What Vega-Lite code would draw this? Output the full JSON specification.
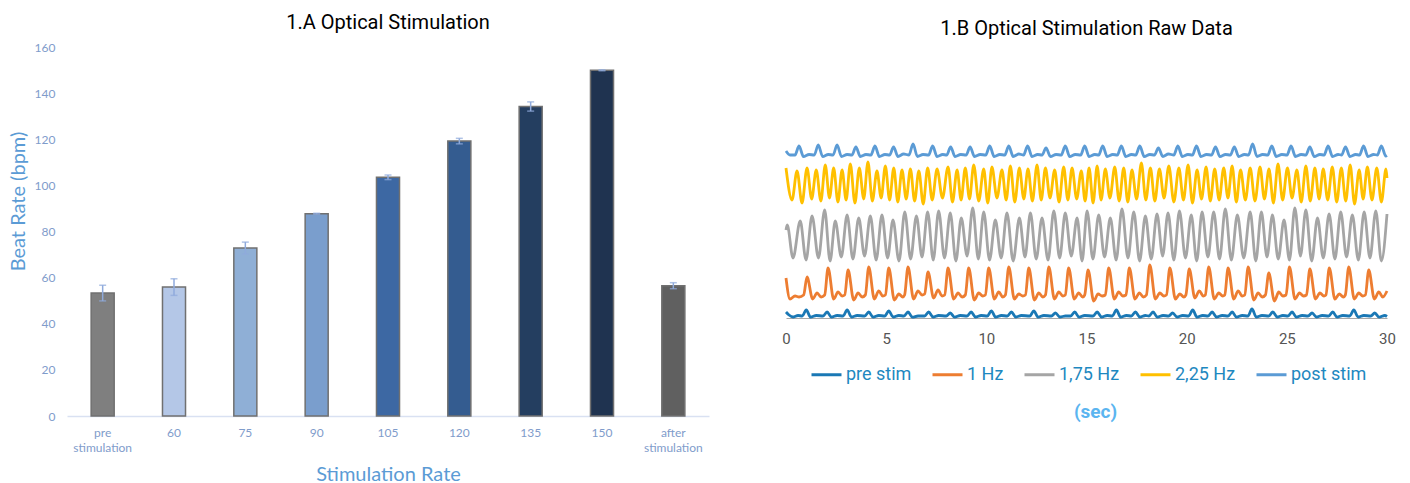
{
"$schema":"https://vega.github.io/schema/vega-lite/v6.json",
"padding":{"left":8,"top":13,"right":5,"bottom":0},
"spacing":71,
"resolve":{"scale":{"color":"independent"},"legend":{"color":"independent"}},
"config":{"view":{"stroke":null},"title":{"font":"Roboto","fontSize":20,"fontWeight":"normal","color":"#000000"}},
"hconcat":[
{
"title":{"text":"1.A Optical Stimulation","offset":8},
"width":642,"height":369,
"data":{"values":[
{"rate":"pre stimulation","beat":53.3,"err":3.4},
{"rate":"60","beat":55.9,"err":3.6},
{"rate":"75","beat":72.8,"err":2.6},
{"rate":"90","beat":87.7,"err":0.2},
{"rate":"105","beat":103.5,"err":1.0},
{"rate":"120","beat":119.2,"err":1.2},
{"rate":"135","beat":134.2,"err":2.0},
{"rate":"150","beat":149.9,"err":0.2},
{"rate":"after stimulation","beat":56.5,"err":1.3}
]},
"encoding":{"x":{"field":"rate","type":"nominal","sort":null,"scale":{"paddingInner":0.677,"paddingOuter":0.3385},
"axis":{"title":"Stimulation Rate","titleColor":"#5B9BD5","titleFont":"Lato","titleFontSize":20,"titleFontWeight":"normal","titleX":321,"titleY":58,"titleBaseline":"middle","titleAlign":"center",
"labelFont":"Lato","labelFontSize":12,"labelColor":"#7F9CCB","labelAngle":0,"labelPadding":11,"labelLineHeight":15,"ticks":false,"domainColor":"#D9E1F2","domainWidth":1.5,
"labelExpr":"datum.label == 'pre stimulation' ? ['pre','stimulation'] : datum.label == 'after stimulation' ? ['after','stimulation'] : datum.label"}}},
"layer":[
{"mark":{"type":"bar","stroke":"#707070","strokeWidth":1.5},
"encoding":{
"y":{"field":"beat","type":"quantitative","title":"Beat Rate (bpm)","scale":{"domain":[0,160],"nice":false},
"axis":{"values":[0,20,40,60,80,100,120,140,160],"titleColor":"#5B9BD5","titleFont":"Lato","titleFontSize":20,"titleFontWeight":"normal","titleX":-49,"titleY":154,"titleBaseline":"middle","titleAlign":"center","titleAngle":-90,
"labelFont":"Lato","labelFontSize":12,"labelColor":"#7F9CCB","labelPadding":12,"ticks":false,"domain":false,"grid":false}},
"color":{"field":"rate","type":"nominal","sort":null,"legend":null,
"scale":{"domain":["pre stimulation","60","75","90","105","120","135","150","after stimulation"],
"range":["#7F7F7F","#B4C7E7","#8FAFD6","#7A9ECD","#3D68A3","#345C90","#243E60","#1F3350","#606060"]}}}},
{"mark":{"type":"errorbar","color":"#8FAADC","thickness":1.5,"ticks":{"size":7}},
"encoding":{"y":{"field":"beat","type":"quantitative","title":"Beat Rate (bpm)"},"yError":{"field":"err"}}}
]
},
{
"title":{"text":"1.B Optical Stimulation Raw Data","offset":8},
"width":601,"height":271,
"data":{"values":[
{"s":"pre stim","t":0,"v":6},{"s":"pre stim","t":0.15,"v":3},{"s":"pre stim","t":0.35,"v":1},{"s":"pre stim","t":0.6,"v":2.5},
{"s":"pre stim","t":0.81,"v":2},{"s":"pre stim","t":1.01,"v":8},{"s":"pre stim","t":1.23,"v":0.8},{"s":"pre stim","t":1.51,"v":2.5},
{"s":"pre stim","t":1.85,"v":2},{"s":"pre stim","t":2.05,"v":6},{"s":"pre stim","t":2.27,"v":0.8},{"s":"pre stim","t":2.55,"v":2.5},
{"s":"pre stim","t":2.85,"v":2},{"s":"pre stim","t":3.05,"v":8},{"s":"pre stim","t":3.27,"v":1},{"s":"pre stim","t":3.55,"v":2.5},
{"s":"pre stim","t":3.93,"v":2},{"s":"pre stim","t":4.13,"v":6},{"s":"pre stim","t":4.35,"v":0.8},{"s":"pre stim","t":4.63,"v":2.5},
{"s":"pre stim","t":4.93,"v":2},{"s":"pre stim","t":5.13,"v":7},{"s":"pre stim","t":5.35,"v":1},{"s":"pre stim","t":5.63,"v":2.5},
{"s":"pre stim","t":5.89,"v":2},{"s":"pre stim","t":6.09,"v":6},{"s":"pre stim","t":6.31,"v":0.8},{"s":"pre stim","t":6.59,"v":2},
{"s":"pre stim","t":6.92,"v":2},{"s":"pre stim","t":7.12,"v":6},{"s":"pre stim","t":7.34,"v":1},{"s":"pre stim","t":7.62,"v":2.5},
{"s":"pre stim","t":8.0,"v":2},{"s":"pre stim","t":8.2,"v":5},{"s":"pre stim","t":8.42,"v":0.8},{"s":"pre stim","t":8.7,"v":2.5},
{"s":"pre stim","t":9.04,"v":2},{"s":"pre stim","t":9.24,"v":6},{"s":"pre stim","t":9.46,"v":1},{"s":"pre stim","t":9.74,"v":2.5},
{"s":"pre stim","t":10.05,"v":2},{"s":"pre stim","t":10.25,"v":7},{"s":"pre stim","t":10.47,"v":0.8},{"s":"pre stim","t":10.75,"v":2.5},
{"s":"pre stim","t":11.05,"v":2},{"s":"pre stim","t":11.25,"v":6},{"s":"pre stim","t":11.47,"v":1},{"s":"pre stim","t":11.75,"v":2.5},
{"s":"pre stim","t":12.17,"v":2},{"s":"pre stim","t":12.37,"v":7},{"s":"pre stim","t":12.59,"v":0.8},{"s":"pre stim","t":12.87,"v":2.5},
{"s":"pre stim","t":13.25,"v":2},{"s":"pre stim","t":13.45,"v":5},{"s":"pre stim","t":13.67,"v":1},{"s":"pre stim","t":13.95,"v":2},
{"s":"pre stim","t":14.21,"v":2},{"s":"pre stim","t":14.41,"v":6},{"s":"pre stim","t":14.63,"v":0.8},{"s":"pre stim","t":14.91,"v":2.5},
{"s":"pre stim","t":15.33,"v":2},{"s":"pre stim","t":15.53,"v":6},{"s":"pre stim","t":15.75,"v":1},{"s":"pre stim","t":16.03,"v":2.5},
{"s":"pre stim","t":16.29,"v":2},{"s":"pre stim","t":16.49,"v":8},{"s":"pre stim","t":16.71,"v":0.8},{"s":"pre stim","t":16.99,"v":2.5},
{"s":"pre stim","t":17.24,"v":2},{"s":"pre stim","t":17.44,"v":6},{"s":"pre stim","t":17.66,"v":1},{"s":"pre stim","t":17.94,"v":2.5},
{"s":"pre stim","t":18.12,"v":2},{"s":"pre stim","t":18.32,"v":6},{"s":"pre stim","t":18.54,"v":0.8},{"s":"pre stim","t":18.82,"v":2.5},
{"s":"pre stim","t":19.1,"v":2},{"s":"pre stim","t":19.3,"v":5},{"s":"pre stim","t":19.52,"v":1},{"s":"pre stim","t":19.8,"v":2.5},
{"s":"pre stim","t":20.1,"v":2},{"s":"pre stim","t":20.3,"v":8},{"s":"pre stim","t":20.52,"v":0.8},{"s":"pre stim","t":20.8,"v":2.5},
{"s":"pre stim","t":21.07,"v":2},{"s":"pre stim","t":21.27,"v":6},{"s":"pre stim","t":21.49,"v":1},{"s":"pre stim","t":21.77,"v":2.5},
{"s":"pre stim","t":22.07,"v":2},{"s":"pre stim","t":22.27,"v":6},{"s":"pre stim","t":22.49,"v":0.8},{"s":"pre stim","t":22.77,"v":2.5},
{"s":"pre stim","t":23.06,"v":2},{"s":"pre stim","t":23.26,"v":9},{"s":"pre stim","t":23.48,"v":0.8},{"s":"pre stim","t":23.76,"v":2.5},
{"s":"pre stim","t":24.1,"v":2},{"s":"pre stim","t":24.3,"v":6},{"s":"pre stim","t":24.52,"v":1},{"s":"pre stim","t":24.8,"v":2.5},
{"s":"pre stim","t":25.06,"v":2},{"s":"pre stim","t":25.26,"v":6},{"s":"pre stim","t":25.48,"v":0.8},{"s":"pre stim","t":25.76,"v":2.5},
{"s":"pre stim","t":26.06,"v":2},{"s":"pre stim","t":26.26,"v":5},{"s":"pre stim","t":26.48,"v":1},{"s":"pre stim","t":26.76,"v":2.5},
{"s":"pre stim","t":27.09,"v":2},{"s":"pre stim","t":27.29,"v":6},{"s":"pre stim","t":27.51,"v":0.8},{"s":"pre stim","t":27.79,"v":2.5},
{"s":"pre stim","t":28.14,"v":2},{"s":"pre stim","t":28.34,"v":8},{"s":"pre stim","t":28.56,"v":1},{"s":"pre stim","t":28.84,"v":2.5},
{"s":"pre stim","t":29.19,"v":2},{"s":"pre stim","t":29.39,"v":5},{"s":"pre stim","t":29.61,"v":0.8},{"s":"pre stim","t":29.89,"v":2.5},
{"s":"pre stim","t":30,"v":1.5},
{"s":"1 Hz","t":0,"v":40},{"s":"1 Hz","t":0.2,"v":19},{"s":"1 Hz","t":0.45,"v":22},{"s":"1 Hz","t":0.65,"v":21},
{"s":"1 Hz","t":0.88,"v":23},{"s":"1 Hz","t":1.05,"v":41},{"s":"1 Hz","t":1.33,"v":19},{"s":"1 Hz","t":1.55,"v":25},{"s":"1 Hz","t":1.75,"v":21},
{"s":"1 Hz","t":1.93,"v":23},{"s":"1 Hz","t":2.1,"v":50},{"s":"1 Hz","t":2.38,"v":19},{"s":"1 Hz","t":2.6,"v":26},{"s":"1 Hz","t":2.8,"v":22},
{"s":"1 Hz","t":2.93,"v":23},{"s":"1 Hz","t":3.1,"v":48},{"s":"1 Hz","t":3.38,"v":18},{"s":"1 Hz","t":3.6,"v":25},{"s":"1 Hz","t":3.8,"v":21},
{"s":"1 Hz","t":3.96,"v":23},{"s":"1 Hz","t":4.13,"v":51},{"s":"1 Hz","t":4.41,"v":19},{"s":"1 Hz","t":4.63,"v":27},{"s":"1 Hz","t":4.83,"v":22},
{"s":"1 Hz","t":4.96,"v":23},{"s":"1 Hz","t":5.13,"v":50},{"s":"1 Hz","t":5.41,"v":18},{"s":"1 Hz","t":5.63,"v":24},{"s":"1 Hz","t":5.83,"v":21},
{"s":"1 Hz","t":5.92,"v":23},{"s":"1 Hz","t":6.09,"v":51},{"s":"1 Hz","t":6.37,"v":19},{"s":"1 Hz","t":6.59,"v":27},{"s":"1 Hz","t":6.79,"v":23},
{"s":"1 Hz","t":6.92,"v":24},{"s":"1 Hz","t":7.09,"v":46},{"s":"1 Hz","t":7.37,"v":20},{"s":"1 Hz","t":7.59,"v":28},{"s":"1 Hz","t":7.79,"v":22},
{"s":"1 Hz","t":7.92,"v":23},{"s":"1 Hz","t":8.09,"v":50},{"s":"1 Hz","t":8.37,"v":19},{"s":"1 Hz","t":8.59,"v":25},{"s":"1 Hz","t":8.79,"v":21},
{"s":"1 Hz","t":8.95,"v":23},{"s":"1 Hz","t":9.12,"v":50},{"s":"1 Hz","t":9.4,"v":18},{"s":"1 Hz","t":9.62,"v":25},{"s":"1 Hz","t":9.82,"v":22},
{"s":"1 Hz","t":9.95,"v":23},{"s":"1 Hz","t":10.12,"v":50},{"s":"1 Hz","t":10.4,"v":19},{"s":"1 Hz","t":10.62,"v":26},{"s":"1 Hz","t":10.82,"v":21},
{"s":"1 Hz","t":10.95,"v":23},{"s":"1 Hz","t":11.12,"v":51},{"s":"1 Hz","t":11.4,"v":19},{"s":"1 Hz","t":11.62,"v":24},{"s":"1 Hz","t":11.82,"v":22},
{"s":"1 Hz","t":11.95,"v":23},{"s":"1 Hz","t":12.12,"v":50},{"s":"1 Hz","t":12.4,"v":18},{"s":"1 Hz","t":12.62,"v":25},{"s":"1 Hz","t":12.82,"v":21},
{"s":"1 Hz","t":12.95,"v":23},{"s":"1 Hz","t":13.12,"v":51},{"s":"1 Hz","t":13.4,"v":19},{"s":"1 Hz","t":13.62,"v":26},{"s":"1 Hz","t":13.82,"v":22},
{"s":"1 Hz","t":13.94,"v":23},{"s":"1 Hz","t":14.11,"v":50},{"s":"1 Hz","t":14.39,"v":19},{"s":"1 Hz","t":14.61,"v":25},{"s":"1 Hz","t":14.81,"v":21},
{"s":"1 Hz","t":14.91,"v":23},{"s":"1 Hz","t":15.08,"v":48},{"s":"1 Hz","t":15.36,"v":17},{"s":"1 Hz","t":15.58,"v":24},{"s":"1 Hz","t":15.78,"v":22},
{"s":"1 Hz","t":15.94,"v":23},{"s":"1 Hz","t":16.11,"v":50},{"s":"1 Hz","t":16.39,"v":19},{"s":"1 Hz","t":16.61,"v":26},{"s":"1 Hz","t":16.81,"v":22},
{"s":"1 Hz","t":16.97,"v":23},{"s":"1 Hz","t":17.14,"v":50},{"s":"1 Hz","t":17.42,"v":19},{"s":"1 Hz","t":17.64,"v":25},{"s":"1 Hz","t":17.84,"v":21},
{"s":"1 Hz","t":17.99,"v":23},{"s":"1 Hz","t":18.16,"v":53},{"s":"1 Hz","t":18.44,"v":19},{"s":"1 Hz","t":18.66,"v":25},{"s":"1 Hz","t":18.86,"v":22},
{"s":"1 Hz","t":18.99,"v":23},{"s":"1 Hz","t":19.16,"v":50},{"s":"1 Hz","t":19.44,"v":19},{"s":"1 Hz","t":19.66,"v":24},{"s":"1 Hz","t":19.86,"v":21},
{"s":"1 Hz","t":19.96,"v":23},{"s":"1 Hz","t":20.13,"v":49},{"s":"1 Hz","t":20.41,"v":20},{"s":"1 Hz","t":20.63,"v":27},{"s":"1 Hz","t":20.83,"v":22},
{"s":"1 Hz","t":20.93,"v":23},{"s":"1 Hz","t":21.1,"v":51},{"s":"1 Hz","t":21.38,"v":19},{"s":"1 Hz","t":21.6,"v":25},{"s":"1 Hz","t":21.8,"v":22},
{"s":"1 Hz","t":21.9,"v":23},{"s":"1 Hz","t":22.07,"v":50},{"s":"1 Hz","t":22.35,"v":19},{"s":"1 Hz","t":22.57,"v":27},{"s":"1 Hz","t":22.77,"v":22},
{"s":"1 Hz","t":22.9,"v":23},{"s":"1 Hz","t":23.07,"v":51},{"s":"1 Hz","t":23.35,"v":18},{"s":"1 Hz","t":23.57,"v":25},{"s":"1 Hz","t":23.77,"v":21},
{"s":"1 Hz","t":23.93,"v":23},{"s":"1 Hz","t":24.1,"v":45},{"s":"1 Hz","t":24.38,"v":17},{"s":"1 Hz","t":24.6,"v":26},{"s":"1 Hz","t":24.8,"v":22},
{"s":"1 Hz","t":24.96,"v":23},{"s":"1 Hz","t":25.13,"v":51},{"s":"1 Hz","t":25.41,"v":19},{"s":"1 Hz","t":25.63,"v":25},{"s":"1 Hz","t":25.83,"v":22},
{"s":"1 Hz","t":25.98,"v":23},{"s":"1 Hz","t":26.15,"v":49},{"s":"1 Hz","t":26.43,"v":19},{"s":"1 Hz","t":26.65,"v":25},{"s":"1 Hz","t":26.85,"v":22},
{"s":"1 Hz","t":26.95,"v":23},{"s":"1 Hz","t":27.12,"v":50},{"s":"1 Hz","t":27.4,"v":19},{"s":"1 Hz","t":27.62,"v":24},{"s":"1 Hz","t":27.82,"v":21},
{"s":"1 Hz","t":27.92,"v":23},{"s":"1 Hz","t":28.09,"v":51},{"s":"1 Hz","t":28.37,"v":19},{"s":"1 Hz","t":28.59,"v":25},{"s":"1 Hz","t":28.79,"v":22},
{"s":"1 Hz","t":28.92,"v":23},{"s":"1 Hz","t":29.09,"v":48},{"s":"1 Hz","t":29.37,"v":19},{"s":"1 Hz","t":29.59,"v":26},{"s":"1 Hz","t":29.79,"v":21},
{"s":"1 Hz","t":30,"v":27},
{"s":"1,75 Hz","t":0,"v":88},{"s":"1,75 Hz","t":0.06,"v":93},{"s":"1,75 Hz","t":0.35,"v":60},
{"s":"1,75 Hz","t":0.71,"v":97},{"s":"1,75 Hz","t":1.0,"v":58},{"s":"1,75 Hz","t":1.3,"v":102},{"s":"1,75 Hz","t":1.62,"v":60},
{"s":"1,75 Hz","t":1.93,"v":108},{"s":"1,75 Hz","t":2.2,"v":57},{"s":"1,75 Hz","t":2.46,"v":97},{"s":"1,75 Hz","t":2.76,"v":61},
{"s":"1,75 Hz","t":3.05,"v":103},{"s":"1,75 Hz","t":3.34,"v":59},{"s":"1,75 Hz","t":3.63,"v":100},{"s":"1,75 Hz","t":3.92,"v":62},
{"s":"1,75 Hz","t":4.21,"v":102},{"s":"1,75 Hz","t":4.5,"v":58},{"s":"1,75 Hz","t":4.79,"v":103},{"s":"1,75 Hz","t":5.07,"v":60},
{"s":"1,75 Hz","t":5.34,"v":98},{"s":"1,75 Hz","t":5.64,"v":57},{"s":"1,75 Hz","t":5.93,"v":106},{"s":"1,75 Hz","t":6.22,"v":59},
{"s":"1,75 Hz","t":6.51,"v":102},{"s":"1,75 Hz","t":6.79,"v":61},{"s":"1,75 Hz","t":7.07,"v":106},{"s":"1,75 Hz","t":7.35,"v":58},
{"s":"1,75 Hz","t":7.62,"v":107},{"s":"1,75 Hz","t":7.91,"v":60},{"s":"1,75 Hz","t":8.2,"v":105},{"s":"1,75 Hz","t":8.48,"v":57},
{"s":"1,75 Hz","t":8.75,"v":100},{"s":"1,75 Hz","t":9.04,"v":62},{"s":"1,75 Hz","t":9.32,"v":110},{"s":"1,75 Hz","t":9.6,"v":59},
{"s":"1,75 Hz","t":9.87,"v":106},{"s":"1,75 Hz","t":10.16,"v":58},{"s":"1,75 Hz","t":10.45,"v":98},{"s":"1,75 Hz","t":10.74,"v":60},
{"s":"1,75 Hz","t":11.03,"v":105},{"s":"1,75 Hz","t":11.34,"v":57},{"s":"1,75 Hz","t":11.65,"v":100},{"s":"1,75 Hz","t":11.93,"v":61},
{"s":"1,75 Hz","t":12.2,"v":105},{"s":"1,75 Hz","t":12.49,"v":59},{"s":"1,75 Hz","t":12.78,"v":100},{"s":"1,75 Hz","t":13.08,"v":58},
{"s":"1,75 Hz","t":13.37,"v":107},{"s":"1,75 Hz","t":13.66,"v":60},{"s":"1,75 Hz","t":13.94,"v":105},{"s":"1,75 Hz","t":14.24,"v":62},
{"s":"1,75 Hz","t":14.53,"v":100},{"s":"1,75 Hz","t":14.78,"v":57},{"s":"1,75 Hz","t":15.03,"v":107},{"s":"1,75 Hz","t":15.32,"v":59},
{"s":"1,75 Hz","t":15.61,"v":103},{"s":"1,75 Hz","t":15.9,"v":61},{"s":"1,75 Hz","t":16.19,"v":100},{"s":"1,75 Hz","t":16.48,"v":58},
{"s":"1,75 Hz","t":16.77,"v":109},{"s":"1,75 Hz","t":17.07,"v":60},{"s":"1,75 Hz","t":17.36,"v":106},{"s":"1,75 Hz","t":17.65,"v":57},
{"s":"1,75 Hz","t":17.94,"v":102},{"s":"1,75 Hz","t":18.23,"v":59},{"s":"1,75 Hz","t":18.52,"v":104},{"s":"1,75 Hz","t":18.8,"v":62},
{"s":"1,75 Hz","t":19.07,"v":105},{"s":"1,75 Hz","t":19.36,"v":58},{"s":"1,75 Hz","t":19.64,"v":107},{"s":"1,75 Hz","t":19.94,"v":60},
{"s":"1,75 Hz","t":20.23,"v":103},{"s":"1,75 Hz","t":20.5,"v":57},{"s":"1,75 Hz","t":20.77,"v":106},{"s":"1,75 Hz","t":21.06,"v":61},
{"s":"1,75 Hz","t":21.35,"v":106},{"s":"1,75 Hz","t":21.64,"v":59},{"s":"1,75 Hz","t":21.93,"v":109},{"s":"1,75 Hz","t":22.23,"v":58},
{"s":"1,75 Hz","t":22.53,"v":103},{"s":"1,75 Hz","t":22.85,"v":60},{"s":"1,75 Hz","t":23.17,"v":106},{"s":"1,75 Hz","t":23.45,"v":57},
{"s":"1,75 Hz","t":23.73,"v":106},{"s":"1,75 Hz","t":24.01,"v":61},{"s":"1,75 Hz","t":24.28,"v":103},{"s":"1,75 Hz","t":24.57,"v":59},
{"s":"1,75 Hz","t":24.86,"v":98},{"s":"1,75 Hz","t":25.13,"v":58},{"s":"1,75 Hz","t":25.4,"v":110},{"s":"1,75 Hz","t":25.68,"v":62},
{"s":"1,75 Hz","t":25.95,"v":108},{"s":"1,75 Hz","t":26.24,"v":57},{"s":"1,75 Hz","t":26.53,"v":100},{"s":"1,75 Hz","t":26.82,"v":60},
{"s":"1,75 Hz","t":27.11,"v":104},{"s":"1,75 Hz","t":27.4,"v":59},{"s":"1,75 Hz","t":27.69,"v":106},{"s":"1,75 Hz","t":27.98,"v":61},
{"s":"1,75 Hz","t":28.27,"v":103},{"s":"1,75 Hz","t":28.57,"v":58},{"s":"1,75 Hz","t":28.86,"v":106},{"s":"1,75 Hz","t":29.15,"v":60},
{"s":"1,75 Hz","t":29.44,"v":107},{"s":"1,75 Hz","t":29.72,"v":57},{"s":"1,75 Hz","t":30,"v":104},
{"s":"2,25 Hz","t":0,"v":150},{"s":"2,25 Hz","t":0.3,"v":118},{"s":"2,25 Hz","t":0.55,"v":147},{"s":"2,25 Hz","t":0.8,"v":115},
{"s":"2,25 Hz","t":1.05,"v":150},{"s":"2,25 Hz","t":1.28,"v":119},{"s":"2,25 Hz","t":1.51,"v":148},{"s":"2,25 Hz","t":1.74,"v":117},
{"s":"2,25 Hz","t":1.96,"v":153},{"s":"2,25 Hz","t":2.17,"v":120},{"s":"2,25 Hz","t":2.38,"v":150},{"s":"2,25 Hz","t":2.59,"v":116},
{"s":"2,25 Hz","t":2.8,"v":148},{"s":"2,25 Hz","t":3.0,"v":118},{"s":"2,25 Hz","t":3.21,"v":154},{"s":"2,25 Hz","t":3.44,"v":115},
{"s":"2,25 Hz","t":3.66,"v":150},{"s":"2,25 Hz","t":3.88,"v":119},{"s":"2,25 Hz","t":4.09,"v":156},{"s":"2,25 Hz","t":4.31,"v":117},
{"s":"2,25 Hz","t":4.54,"v":147},{"s":"2,25 Hz","t":4.75,"v":120},{"s":"2,25 Hz","t":4.96,"v":152},{"s":"2,25 Hz","t":5.17,"v":118},
{"s":"2,25 Hz","t":5.38,"v":150},{"s":"2,25 Hz","t":5.58,"v":116},{"s":"2,25 Hz","t":5.79,"v":148},{"s":"2,25 Hz","t":6.0,"v":119},
{"s":"2,25 Hz","t":6.21,"v":149},{"s":"2,25 Hz","t":6.42,"v":117},{"s":"2,25 Hz","t":6.63,"v":147},{"s":"2,25 Hz","t":6.85,"v":114},
{"s":"2,25 Hz","t":7.07,"v":150},{"s":"2,25 Hz","t":7.3,"v":118},{"s":"2,25 Hz","t":7.54,"v":149},{"s":"2,25 Hz","t":7.81,"v":120},
{"s":"2,25 Hz","t":8.09,"v":151},{"s":"2,25 Hz","t":8.31,"v":116},{"s":"2,25 Hz","t":8.54,"v":148},{"s":"2,25 Hz","t":8.74,"v":118},
{"s":"2,25 Hz","t":8.95,"v":150},{"s":"2,25 Hz","t":9.16,"v":119},{"s":"2,25 Hz","t":9.37,"v":153},{"s":"2,25 Hz","t":9.62,"v":117},
{"s":"2,25 Hz","t":9.87,"v":149},{"s":"2,25 Hz","t":10.07,"v":115},{"s":"2,25 Hz","t":10.28,"v":151},{"s":"2,25 Hz","t":10.53,"v":120},
{"s":"2,25 Hz","t":10.78,"v":148},{"s":"2,25 Hz","t":10.99,"v":118},{"s":"2,25 Hz","t":11.2,"v":152},{"s":"2,25 Hz","t":11.42,"v":116},
{"s":"2,25 Hz","t":11.65,"v":150},{"s":"2,25 Hz","t":11.87,"v":119},{"s":"2,25 Hz","t":12.08,"v":149},{"s":"2,25 Hz","t":12.3,"v":117},
{"s":"2,25 Hz","t":12.53,"v":153},{"s":"2,25 Hz","t":12.74,"v":118},{"s":"2,25 Hz","t":12.95,"v":150},{"s":"2,25 Hz","t":13.18,"v":120},
{"s":"2,25 Hz","t":13.41,"v":148},{"s":"2,25 Hz","t":13.63,"v":116},{"s":"2,25 Hz","t":13.86,"v":151},{"s":"2,25 Hz","t":14.07,"v":118},
{"s":"2,25 Hz","t":14.28,"v":150},{"s":"2,25 Hz","t":14.51,"v":119},{"s":"2,25 Hz","t":14.74,"v":147},{"s":"2,25 Hz","t":14.93,"v":117},
{"s":"2,25 Hz","t":15.13,"v":150},{"s":"2,25 Hz","t":15.33,"v":115},{"s":"2,25 Hz","t":15.53,"v":152},{"s":"2,25 Hz","t":15.73,"v":118},
{"s":"2,25 Hz","t":15.94,"v":149},{"s":"2,25 Hz","t":16.17,"v":120},{"s":"2,25 Hz","t":16.41,"v":151},{"s":"2,25 Hz","t":16.63,"v":117},
{"s":"2,25 Hz","t":16.86,"v":150},{"s":"2,25 Hz","t":17.06,"v":116},{"s":"2,25 Hz","t":17.27,"v":148},{"s":"2,25 Hz","t":17.5,"v":119},
{"s":"2,25 Hz","t":17.74,"v":155},{"s":"2,25 Hz","t":17.96,"v":118},{"s":"2,25 Hz","t":18.19,"v":150},{"s":"2,25 Hz","t":18.41,"v":117},
{"s":"2,25 Hz","t":18.64,"v":149},{"s":"2,25 Hz","t":18.87,"v":120},{"s":"2,25 Hz","t":19.11,"v":152},{"s":"2,25 Hz","t":19.36,"v":116},
{"s":"2,25 Hz","t":19.61,"v":150},{"s":"2,25 Hz","t":19.84,"v":118},{"s":"2,25 Hz","t":20.07,"v":153},{"s":"2,25 Hz","t":20.29,"v":115},
{"s":"2,25 Hz","t":20.52,"v":148},{"s":"2,25 Hz","t":20.74,"v":119},{"s":"2,25 Hz","t":20.97,"v":151},{"s":"2,25 Hz","t":21.18,"v":117},
{"s":"2,25 Hz","t":21.4,"v":149},{"s":"2,25 Hz","t":21.62,"v":118},{"s":"2,25 Hz","t":21.85,"v":150},{"s":"2,25 Hz","t":22.06,"v":120},
{"s":"2,25 Hz","t":22.27,"v":152},{"s":"2,25 Hz","t":22.48,"v":116},{"s":"2,25 Hz","t":22.69,"v":148},{"s":"2,25 Hz","t":22.93,"v":118},
{"s":"2,25 Hz","t":23.17,"v":150},{"s":"2,25 Hz","t":23.41,"v":117},{"s":"2,25 Hz","t":23.66,"v":151},{"s":"2,25 Hz","t":23.88,"v":119},
{"s":"2,25 Hz","t":24.11,"v":149},{"s":"2,25 Hz","t":24.33,"v":115},{"s":"2,25 Hz","t":24.56,"v":154},{"s":"2,25 Hz","t":24.79,"v":118},
{"s":"2,25 Hz","t":25.03,"v":150},{"s":"2,25 Hz","t":25.26,"v":120},{"s":"2,25 Hz","t":25.5,"v":148},{"s":"2,25 Hz","t":25.72,"v":116},
{"s":"2,25 Hz","t":25.95,"v":152},{"s":"2,25 Hz","t":26.17,"v":117},{"s":"2,25 Hz","t":26.4,"v":150},{"s":"2,25 Hz","t":26.61,"v":119},
{"s":"2,25 Hz","t":26.82,"v":149},{"s":"2,25 Hz","t":27.04,"v":118},{"s":"2,25 Hz","t":27.27,"v":151},{"s":"2,25 Hz","t":27.49,"v":116},
{"s":"2,25 Hz","t":27.72,"v":150},{"s":"2,25 Hz","t":27.94,"v":117},{"s":"2,25 Hz","t":28.16,"v":153},{"s":"2,25 Hz","t":28.38,"v":114},
{"s":"2,25 Hz","t":28.61,"v":148},{"s":"2,25 Hz","t":28.81,"v":119},{"s":"2,25 Hz","t":29.02,"v":151},{"s":"2,25 Hz","t":29.25,"v":118},
{"s":"2,25 Hz","t":29.49,"v":150},{"s":"2,25 Hz","t":29.72,"v":116},{"s":"2,25 Hz","t":29.95,"v":149},{"s":"2,25 Hz","t":30,"v":140},
{"s":"post stim","t":0,"v":167},{"s":"post stim","t":0.2,"v":163},
{"s":"post stim","t":0.45,"v":163},{"s":"post stim","t":0.65,"v":172},{"s":"post stim","t":0.87,"v":161.5},{"s":"post stim","t":1.15,"v":163.5},
{"s":"post stim","t":1.41,"v":163},{"s":"post stim","t":1.61,"v":173},{"s":"post stim","t":1.83,"v":161.5},{"s":"post stim","t":2.11,"v":163.5},
{"s":"post stim","t":2.35,"v":163},{"s":"post stim","t":2.55,"v":173},{"s":"post stim","t":2.77,"v":161.5},{"s":"post stim","t":3.05,"v":163.5},
{"s":"post stim","t":3.29,"v":163},{"s":"post stim","t":3.49,"v":171},{"s":"post stim","t":3.71,"v":161.5},{"s":"post stim","t":3.99,"v":163.5},
{"s":"post stim","t":4.24,"v":163},{"s":"post stim","t":4.44,"v":172},{"s":"post stim","t":4.66,"v":161.5},{"s":"post stim","t":4.94,"v":163.5},
{"s":"post stim","t":5.17,"v":163},{"s":"post stim","t":5.37,"v":171},{"s":"post stim","t":5.59,"v":161.5},{"s":"post stim","t":5.87,"v":164},
{"s":"post stim","t":6.14,"v":163},{"s":"post stim","t":6.34,"v":174},{"s":"post stim","t":6.56,"v":161.5},{"s":"post stim","t":6.84,"v":163.5},
{"s":"post stim","t":7.12,"v":163},{"s":"post stim","t":7.32,"v":172},{"s":"post stim","t":7.54,"v":161.5},{"s":"post stim","t":7.82,"v":163.5},
{"s":"post stim","t":8.02,"v":163},{"s":"post stim","t":8.22,"v":171},{"s":"post stim","t":8.44,"v":161.5},{"s":"post stim","t":8.72,"v":163.5},
{"s":"post stim","t":8.99,"v":163},{"s":"post stim","t":9.19,"v":171},{"s":"post stim","t":9.41,"v":161.5},{"s":"post stim","t":9.69,"v":163.5},
{"s":"post stim","t":9.97,"v":163},{"s":"post stim","t":10.17,"v":172},{"s":"post stim","t":10.39,"v":161.5},{"s":"post stim","t":10.67,"v":163.5},
{"s":"post stim","t":10.92,"v":163},{"s":"post stim","t":11.12,"v":172},{"s":"post stim","t":11.34,"v":161.5},{"s":"post stim","t":11.62,"v":164},
{"s":"post stim","t":11.86,"v":163},{"s":"post stim","t":12.06,"v":172},{"s":"post stim","t":12.28,"v":161.5},{"s":"post stim","t":12.56,"v":163.5},
{"s":"post stim","t":12.78,"v":163},{"s":"post stim","t":12.98,"v":170},{"s":"post stim","t":13.2,"v":161.5},{"s":"post stim","t":13.48,"v":163.5},
{"s":"post stim","t":13.74,"v":163},{"s":"post stim","t":13.94,"v":172},{"s":"post stim","t":14.16,"v":161.5},{"s":"post stim","t":14.44,"v":163.5},
{"s":"post stim","t":14.71,"v":163},{"s":"post stim","t":14.91,"v":172},{"s":"post stim","t":15.13,"v":161.5},{"s":"post stim","t":15.41,"v":163.5},
{"s":"post stim","t":15.61,"v":163},{"s":"post stim","t":15.81,"v":172},{"s":"post stim","t":16.03,"v":161.5},{"s":"post stim","t":16.31,"v":163.5},
{"s":"post stim","t":16.54,"v":163},{"s":"post stim","t":16.74,"v":172},{"s":"post stim","t":16.96,"v":161.5},{"s":"post stim","t":17.24,"v":163.5},
{"s":"post stim","t":17.46,"v":163},{"s":"post stim","t":17.66,"v":172},{"s":"post stim","t":17.88,"v":161.5},{"s":"post stim","t":18.16,"v":163.5},
{"s":"post stim","t":18.39,"v":163},{"s":"post stim","t":18.59,"v":170},{"s":"post stim","t":18.81,"v":161.5},{"s":"post stim","t":19.09,"v":164},
{"s":"post stim","t":19.36,"v":163},{"s":"post stim","t":19.56,"v":172},{"s":"post stim","t":19.78,"v":161.5},{"s":"post stim","t":20.06,"v":163.5},
{"s":"post stim","t":20.29,"v":163},{"s":"post stim","t":20.49,"v":172},{"s":"post stim","t":20.71,"v":161.5},{"s":"post stim","t":20.99,"v":163.5},
{"s":"post stim","t":21.24,"v":163},{"s":"post stim","t":21.44,"v":171},{"s":"post stim","t":21.66,"v":161.5},{"s":"post stim","t":21.94,"v":163.5},
{"s":"post stim","t":22.18,"v":163},{"s":"post stim","t":22.38,"v":171},{"s":"post stim","t":22.6,"v":161.5},{"s":"post stim","t":22.88,"v":163.5},
{"s":"post stim","t":23.09,"v":163},{"s":"post stim","t":23.29,"v":174},{"s":"post stim","t":23.51,"v":161.5},{"s":"post stim","t":23.79,"v":163.5},
{"s":"post stim","t":24.05,"v":163},{"s":"post stim","t":24.25,"v":172},{"s":"post stim","t":24.47,"v":161.5},{"s":"post stim","t":24.75,"v":163.5},
{"s":"post stim","t":25.01,"v":163},{"s":"post stim","t":25.21,"v":172},{"s":"post stim","t":25.43,"v":161.5},{"s":"post stim","t":25.71,"v":163.5},
{"s":"post stim","t":25.95,"v":163},{"s":"post stim","t":26.15,"v":171},{"s":"post stim","t":26.37,"v":161.5},{"s":"post stim","t":26.65,"v":163.5},
{"s":"post stim","t":26.86,"v":163},{"s":"post stim","t":27.06,"v":172},{"s":"post stim","t":27.28,"v":161.5},{"s":"post stim","t":27.56,"v":163.5},
{"s":"post stim","t":27.73,"v":163},{"s":"post stim","t":27.93,"v":171},{"s":"post stim","t":28.15,"v":161.5},{"s":"post stim","t":28.43,"v":163.5},
{"s":"post stim","t":28.63,"v":163},{"s":"post stim","t":28.83,"v":172},{"s":"post stim","t":29.05,"v":161.5},{"s":"post stim","t":29.33,"v":163.5},
{"s":"post stim","t":29.52,"v":163},{"s":"post stim","t":29.72,"v":172},{"s":"post stim","t":29.94,"v":162},{"s":"post stim","t":30,"v":162.5}
]},
"mark":{"type":"line","strokeWidth":2.8,"interpolate":"monotone"},
"encoding":{
"x":{"field":"t","type":"quantitative","scale":{"domain":[0,30],"nice":false,"zero":false},
"axis":{"title":"(sec)","titleFont":"Roboto","titleFontSize":19,"titleFontWeight":"bold","titleColor":"#5BB5F0","titleX":309,"titleY":93,"titleBaseline":"middle","titleAlign":"center",
"values":[0,5,10,15,20,25,30],"labelFont":"Roboto","labelFontSize":15,"labelColor":"#555555","labelPadding":13,"ticks":false,"grid":false,"domainColor":"#A8A8A8","domainWidth":1,"labelFlush":false}},
"y":{"field":"v","type":"quantitative","scale":{"domain":[0,271],"nice":false},"axis":null},
"color":{"field":"s","type":"nominal","sort":null,
"scale":{"domain":["pre stim","1 Hz","1,75 Hz","2,25 Hz","post stim"],"range":["#1A78B5","#ED7D31","#A5A5A5","#FFC000","#5B9BD5"]},
"legend":{"orient":"none","legendX":24,"legendY":311,"direction":"horizontal","title":null,"symbolType":"stroke","symbolSize":900,"symbolStrokeWidth":3,
"labelFont":"Roboto","labelFontSize":18,"labelColor":"#1E88C0","labelOffset":3,"columnPadding":14}},
"order":{"field":"t","type":"quantitative"}}
}
]
}
